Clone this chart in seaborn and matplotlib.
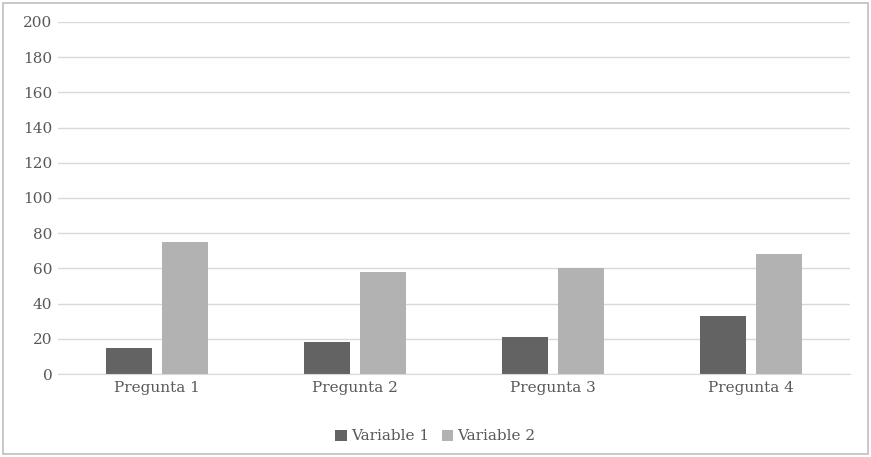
import pandas as pd
import seaborn as sns
import matplotlib.pyplot as plt
from matplotlib.patches import Rectangle

# Chart data
categories = ["Pregunta 1", "Pregunta 2", "Pregunta 3", "Pregunta 4"]
variable_1 = [15, 18, 21, 33]
variable_2 = [75, 58, 60, 68]
series_names = ["Variable 1", "Variable 2"]
y_ticks = [0, 20, 40, 60, 80, 100, 120, 140, 160, 180, 200]

df = pd.DataFrame({
    "Pregunta": categories * 2,
    "Serie": [series_names[0]] * 4 + [series_names[1]] * 4,
    "Valor": variable_1 + variable_2,
})

sns.set_style("white")
plt.rcParams["font.family"] = ["DejaVu Serif"]
text_color = "#595959"

fig = plt.figure(figsize=(8.71, 4.57), dpi=100)
ax = fig.add_axes([0.0666, 0.1816, 0.9094, 0.7703])

sns.barplot(data=df, x="Pregunta", y="Valor", hue="Serie",
            palette=["#636363", "#b2b2b2"], width=0.56, gap=0.17,
            linewidth=0, ax=ax, legend=True)

ax.set_ylim(0, 200)
ax.set_yticks(y_ticks)
ax.set_xlim(-0.5, 3.5)
ax.grid(axis="y", color="#d9d9d9", linewidth=1)
ax.set_axisbelow(True)
for s in ["top", "right", "left"]:
    ax.spines[s].set_visible(False)
ax.spines["bottom"].set_color("#d9d9d9")
ax.set_xlabel("")
ax.set_ylabel("")
ax.tick_params(axis="both", length=0, labelsize=11, labelcolor=text_color)
ax.tick_params(axis="y", pad=4)
ax.tick_params(axis="x", pad=5)

handles, labels = ax.get_legend_handles_labels()
ax.legend(handles, labels, loc="center", bbox_to_anchor=(0.5, 0.045),
          bbox_transform=fig.transFigure, ncol=2, frameon=False,
          fontsize=11, labelcolor=text_color, handlelength=0.75,
          handleheight=0.75, handletextpad=0.3, columnspacing=0.8)

# outer chart border
fig.patches.append(Rectangle((0.004, 0.006), 0.992, 0.988, transform=fig.transFigure,
                             fill=False, edgecolor="#bfbfbf", linewidth=1.2))

fig.savefig("out.png", dpi=100)
